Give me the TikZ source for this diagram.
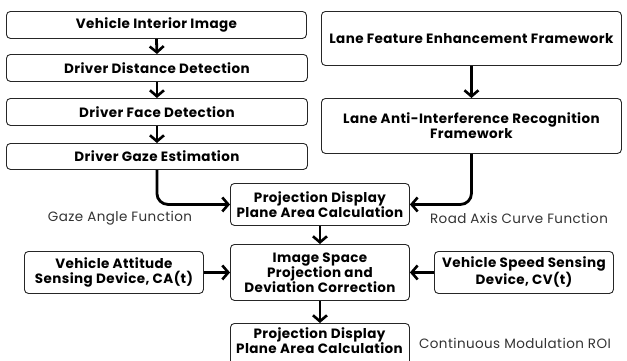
\documentclass[tikz,border=0pt]{standalone}
\usepackage{fontspec}
\setmainfont{Poppins}[BoldFont={Poppins Bold},LetterSpace=3]
\usetikzlibrary{arrows.meta}
\begin{document}
\begin{tikzpicture}[x=1pt,y=-1pt,
  box/.style={draw=black!85, line width=0.9pt, rounded corners=4pt, inner sep=0pt, anchor=north west, font=\fontsize{13.5}{15}\selectfont\bfseries, align=center},
  lbl/.style={font=\fontsize{13.5}{15}\selectfont, text=black!80, inner sep=0pt},
  conn/.style={line width=2.8pt, -{Straight Barb[length=6pt,width=14pt,line width=2.6pt]}, rounded corners=11pt}]
\clip (0,0) rectangle (627,360);
\fill[white] (0,0) rectangle (627,360);
\node[box, minimum width=300pt, minimum height=27pt] (b1) at (6,11) {Vehicle Interior Image};
\node[box, minimum width=301pt, minimum height=27pt] (b2) at (6,54) {Driver Distance Detection};
\node[box, minimum width=301pt, minimum height=27pt] (b3) at (6,98) {Driver Face Detection};
\node[box, minimum width=301pt, minimum height=26pt] (b4) at (6,143) {Driver Gaze Estimation};
\node[box, minimum width=300pt, minimum height=54pt] (r1) at (321,11) {Lane Feature Enhancement Framework};
\node[box, minimum width=300pt, minimum height=55pt] (r2) at (321,98) {Lane Anti-Interference Recognition\\Framework};
\node[box, minimum width=179pt, minimum height=42pt] (p1) at (230,183) {Projection Display\\Plane Area Calculation};
\node[box, minimum width=179pt, minimum height=56pt] (is) at (230,244) {Image Space\\Projection and\\Deviation Correction};
\node[box, minimum width=179pt, minimum height=42pt] (va) at (24,251) {Vehicle Attitude\\Sensing Device, CA(t)};
\node[box, minimum width=179pt, minimum height=42pt] (vs) at (434,251) {Vehicle Speed Sensing\\Device, CV(t)};
\node[box, minimum width=179pt, minimum height=50pt] (p2) at (230,323) {};
\node[font=\fontsize{13.5}{15}\selectfont\bfseries, align=center, inner sep=0pt] (p2t) at (319.5,341) {Projection Display\\Plane Area Calculation};
\node[lbl] (g) at (120,218) {Gaze Angle Function};
\node[lbl] (ra) at (519,218) {Road Axis Curve Function};
\node[lbl] (cm) at (515,343) {Continuous Modulation ROI};
\draw[conn] (b1.south) -- (b2.north);
\draw[conn] (b2.south) -- (b3.north);
\draw[conn] (b3.south) -- (b4.north);
\draw[conn] (r1.south) -- (r2.north);
\draw[conn] (b4.south) |- (p1.west);
\draw[conn] (r2.south) |- (p1.east);
\draw[conn] (p1.south) -- (is.north);
\draw[conn] (va.east) -- (is.west);
\draw[conn] (vs.west) -- (is.east);
\draw[conn] (is.south) -- (p2.north);
\end{tikzpicture}
\end{document}
